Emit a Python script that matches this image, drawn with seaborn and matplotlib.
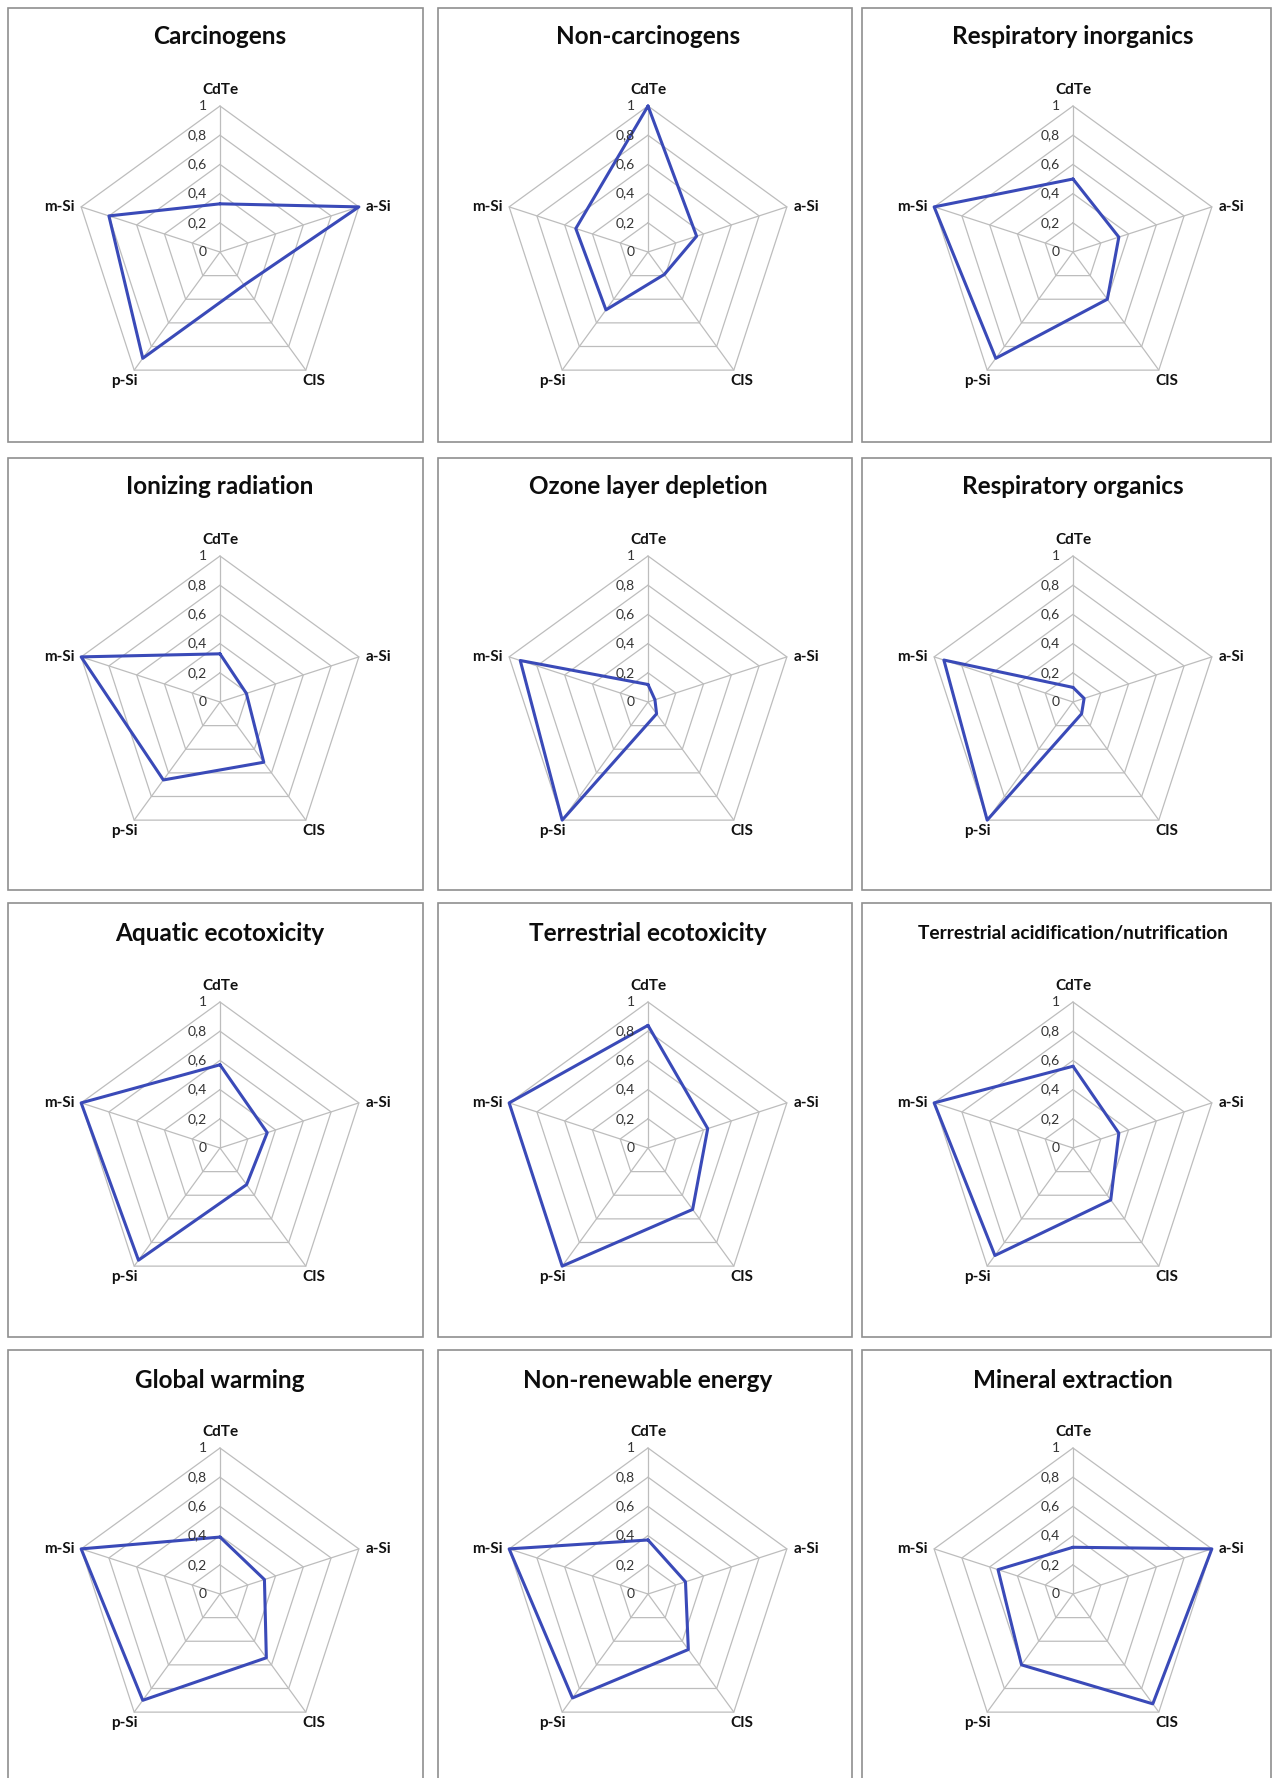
import numpy as np
import matplotlib
matplotlib.use('Agg')
import matplotlib.pyplot as plt
import matplotlib.transforms as mtransforms
from matplotlib.patches import Rectangle
import seaborn as sns

# data: normalised impact scores per PV technology
categories = ['CdTe', 'a-Si', 'CIS', 'p-Si', 'm-Si']
titles = [
    'Carcinogens', 'Non-carcinogens', 'Respiratory inorganics',
    'Ionizing radiation', 'Ozone layer depletion', 'Respiratory organics',
    'Aquatic ecotoxicity', 'Terrestrial ecotoxicity', 'Terrestrial acidification/nutrification',
    'Global warming', 'Non-renewable energy', 'Mineral extraction',
]
carcinogens = [0.33, 1.0, 0.28, 0.90, 0.80]
non_carcinogens = [1.0, 0.35, 0.19, 0.49, 0.52]
resp_inorganics = [0.50, 0.33, 0.40, 0.90, 1.0]
ionizing_radiation = [0.33, 0.19, 0.51, 0.66, 1.0]
ozone_depletion = [0.12, 0.05, 0.10, 1.0, 0.92]
resp_organics = [0.10, 0.08, 0.10, 1.0, 0.93]
aquatic_ecotox = [0.57, 0.34, 0.31, 0.95, 1.0]
terrestrial_ecotox = [0.84, 0.43, 0.52, 1.0, 1.0]
terrestrial_acid = [0.56, 0.33, 0.44, 0.91, 1.0]
global_warming = [0.39, 0.32, 0.54, 0.90, 1.0]
non_renewable = [0.37, 0.27, 0.47, 0.88, 1.0]
mineral_extraction = [0.32, 1.0, 0.93, 0.60, 0.54]
panel_values = [
    carcinogens, non_carcinogens, resp_inorganics,
    ionizing_radiation, ozone_depletion, resp_organics,
    aquatic_ecotox, terrestrial_ecotox, terrestrial_acid,
    global_warming, non_renewable, mineral_extraction,
]
levels = [0, 0.2, 0.4, 0.6, 0.8, 1]
level_labels = ['0', '0,2', '0,4', '0,6', '0,8', '1']

# layout in pixels
W, H = 1273, 1778
R = 146
col_x = [220, 648, 1073]
row_y = [252, 702, 1148, 1594]
title_y = [37, 487, 933, 1380]
box_left = [8, 438, 862]
box_right = [423, 852, 1271]
box_top = [8, 458, 903, 1350]
box_bottom = [442, 890, 1337, 1800]

GRID = '#bdbdbd'
LINE = '#3a4ab8'

sns.set_style('white')
plt.rcParams['font.family'] = ['Lato', 'DejaVu Sans']

fig = plt.figure(figsize=(W / 100, H / 100), dpi=100)

angles = np.deg2rad(np.arange(len(categories)) * 72.0)
angles_closed = np.append(angles, angles[0])

for i, (title, vals) in enumerate(zip(titles, panel_values)):
    r, c = divmod(i, 3)
    cx, cy = col_x[c], row_y[r]

    # panel frame
    fig.add_artist(Rectangle(
        (box_left[c] / W, 1 - box_bottom[r] / H),
        (box_right[c] - box_left[c]) / W, (box_bottom[r] - box_top[r]) / H,
        transform=fig.transFigure, fill=False, edgecolor='#8f8f8f', lw=1.2))

    fs = 13.8 if len(title) > 30 else 17.5
    fig.text(cx / W, 1 - title_y[r] / H, title, ha='center', va='center',
             fontsize=fs, fontweight='bold', color='#0d0d0d')

    ax = fig.add_axes([(cx - R) / W, (H - cy - R) / H, 2 * R / W, 2 * R / H],
                      projection='polar')
    ax.set_theta_offset(np.pi / 2)
    ax.set_theta_direction(-1)

    # pentagon grid + spokes
    for lv in levels[1:]:
        ax.plot(angles_closed, [lv] * len(angles_closed), color=GRID, lw=0.9, clip_on=False)
    for a in angles:
        ax.plot([a, a], [0, 1], color=GRID, lw=0.9, clip_on=False)

    vals_closed = vals + vals[:1]
    sns.lineplot(x=angles_closed, y=vals_closed, sort=False, estimator=None,
                 ax=ax, color=LINE, lw=2.2)
    for ln in ax.lines:
        ln.set_clip_on(False)

    ax.set_ylim(0, 1)
    ax.set_axis_off()

    # radial tick labels
    tr = mtransforms.offset_copy(ax.transData, fig=fig, x=-13, y=0, units='dots')
    for lv, lab in zip(levels, level_labels):
        ax.text(0, lv, lab, transform=tr, ha='right', va='center',
                fontsize=10, color='#333333')

    # category labels
    label_cfg = [
        (0, 9, 'center', 'bottom'),
        (7, 0, 'left', 'center'),
        (-3, -4, 'left', 'top'),
        (3, -4, 'right', 'top'),
        (-7, 0, 'right', 'center'),
    ]
    for a, cat, (dx, dy, ha, va) in zip(angles, categories, label_cfg):
        t = mtransforms.offset_copy(ax.transData, fig=fig, x=dx, y=dy, units='dots')
        ax.text(a, 1, cat, transform=t, ha=ha, va=va, fontsize=11,
                fontweight='bold', color='#111111')

fig.savefig('out.png', dpi=100, facecolor='white')
